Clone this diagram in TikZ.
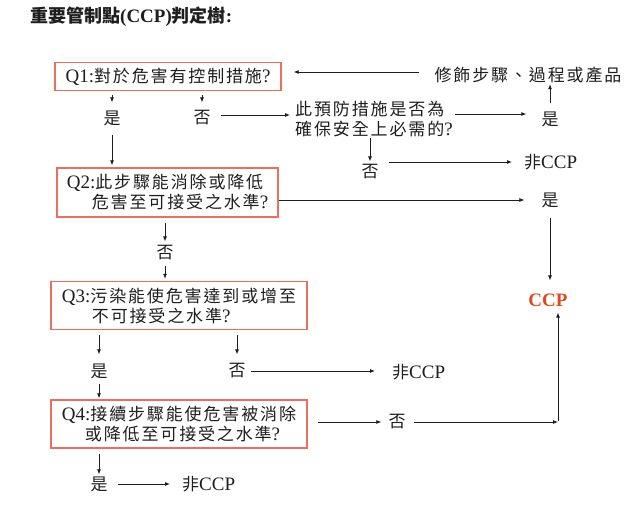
\documentclass[tikz,border=0pt]{standalone}
\usepackage{fontspec}
\setmainfont{Liberation Serif}
\newfontfamily\cjkfont[LetterSpace=11]{Noto Sans CJK TC}
\newfontfamily\cjktitle{Noto Sans CJK TC}
\newcommand\zh[1]{{\fontsize{17}{20}\selectfont\cjkfont #1}}
\newcommand\zhtitle[1]{{\fontsize{18}{22}\selectfont\cjktitle\bfseries #1}}
\usetikzlibrary{arrows.meta}
\definecolor{boxred}{RGB}{232,112,92}
\definecolor{ccpred}{RGB}{224,72,32}
\definecolor{ink}{RGB}{30,30,30}
\begin{document}
\begin{tikzpicture}[x=1pt,y=-1pt,
  qbox/.style={draw=boxred, line width=1.4pt, inner sep=0pt, align=left, font=\fontsize{19}{20}\selectfont, text=ink},
  lbl/.style={inner sep=0pt, font=\fontsize{19}{20}\selectfont, text=ink},
  arr/.style={draw=ink, line width=0.8pt, -{Latex[length=5pt,width=4pt]}}]
\useasboundingbox (0,0) rectangle (630,514);

% title
\node[lbl, anchor=west, font=\bfseries\fontsize{19}{22}\selectfont] (title) at (30,17) {\zhtitle{重要管制點}(CCP)\zhtitle{判定樹}:};

% question boxes
\node[qbox, minimum width=226pt, minimum height=28pt] (q1) at (168,76.5) {Q1:\zh{對於危害有控制措施}?};
\node[qbox, minimum width=221pt, minimum height=49pt] (q2) at (167.5,192.5) {Q2:\zh{此步驟能消除或降低}\\\hspace{25pt}\zh{危害至可接受之水準}?};
\node[qbox, minimum width=256pt, minimum height=48pt] (q3) at (179,305.5) {Q3:\zh{污染能使危害達到或增至}\\\hspace{30pt}\zh{不可接受之水準}?};
\node[qbox, minimum width=256pt, minimum height=48pt] (q4) at (179,424) {Q4:\zh{接續步驟能使危害被消除}\\\hspace{23pt}\zh{或降低至可接受之水準}?};

% labels
\node[lbl] (mod) at (528,75) {\zh{修飾步驟、過程或產品}};
\node[lbl] (yes1) at (112,118) {\zh{是}};
\node[lbl] (no1) at (202,118) {\zh{否}};
\node[lbl, anchor=west, align=left] (prev) at (295,119) {\zh{此預防措施是否為}\\\zh{確保安全上必需的}?};
\node[lbl] (yes2) at (550,119) {\zh{是}};
\node[lbl] (no2) at (370,172) {\zh{否}};
\node[lbl, anchor=west] (nc1) at (524,162) {\zh{非}CCP};
\node[lbl] (yes3) at (550,200) {\zh{是}};
\node[lbl, font=\bfseries\fontsize{19}{20}\selectfont, text=ccpred] (ccp) at (548,300) {CCP};
\node[lbl] (no3) at (165,253) {\zh{否}};
\node[lbl] (yes4) at (99,371) {\zh{是}};
\node[lbl] (no4) at (237,371) {\zh{否}};
\node[lbl, anchor=west] (nc2) at (392,372) {\zh{非}CCP};
\node[lbl] (no5) at (397,422) {\zh{否}};
\coordinate (corner) at (558,421);
\node[lbl] (yes5) at (99,484) {\zh{是}};
\node[lbl, anchor=west] (nc3) at (182,484) {\zh{非}CCP};

% connectors
\draw[arr, shorten <=15pt, shorten >=12pt] ([yshift=3pt]mod.west) -- ([yshift=3pt]mod.west -| q1.east);
\draw[arr, shorten <=4pt, shorten >=8pt] (q1.south -| yes1) -- (yes1.north);
\draw[arr, shorten <=4pt, shorten >=8pt] (q1.south -| no1) -- (no1.north);
\draw[arr, shorten <=10pt, shorten >=5pt] ([yshift=3pt]no1.east) -- ([yshift=3pt]no1.east -| prev.west);
\draw[arr, shorten <=2pt, shorten >=15pt] ([yshift=5pt]prev.east) -- ([yshift=5pt]prev.east -| yes2.west);
\draw[arr, shorten <=8pt, shorten >=1pt] (yes2.north) -- (yes2.north |- mod.south);
\draw[arr, shorten <=1pt, shorten >=3pt] (prev.south -| no2) -- (no2.north);
\draw[arr, shorten <=10pt, shorten >=12pt] (no2.east |- nc1) -- (nc1.west);
\draw[arr, shorten <=9pt, shorten >=2pt] (yes1.south) -- (yes1.south |- q2.north);
\draw[arr, shorten >=17pt] (q2.east |- yes3) -- (yes3.west);
\draw[arr, shorten <=10pt, shorten >=13pt] (yes3.south) -- (yes3.south |- ccp.north);
\draw[arr, shorten <=5pt, shorten >=4pt] (q2.south -| no3) -- (no3.north);
\draw[arr, shorten <=5pt, shorten >=2pt] (no3.south) -- (no3.south |- q3.north);
\draw[arr, shorten <=5pt, shorten >=9pt] (q3.south -| yes4) -- (yes4.north);
\draw[arr, shorten <=5pt, shorten >=9pt] (q3.south -| no4) -- (no4.north);
\draw[arr, shorten <=5pt, shorten >=17pt] (no4.east) -- (no4.east -| nc2.west);
\draw[arr, shorten <=5pt, shorten >=1pt] (yes4.south) -- (yes4.south |- q4.north);
\draw[arr, shorten <=10pt, shorten >=7pt] (q4.east |- no5) -- (no5.west);
\draw[arr, shorten <=8pt] (no5.east) -- (no5.east -| corner);
\draw[arr, shorten >=6pt] (corner) -- (corner |- ccp.south);
\draw[arr, shorten <=5pt, shorten >=2pt] (q4.south -| yes5) -- (yes5.north);
\draw[arr, shorten <=10pt, shorten >=12pt] (yes5.east) -- (yes5.east -| nc3.west);
\end{tikzpicture}
\end{document}
